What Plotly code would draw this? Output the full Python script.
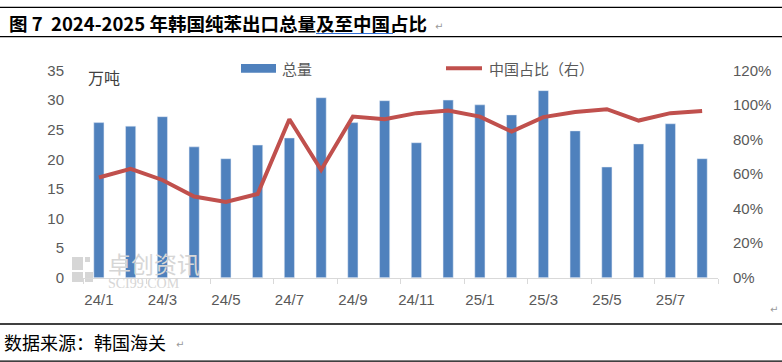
import plotly.graph_objects as go

months = ["24/1", "24/2", "24/3", "24/4", "24/5", "24/6", "24/7", "24/8", "24/9", "24/10",
          "24/11", "24/12", "25/1", "25/2", "25/3", "25/4", "25/5", "25/6", "25/7", "25/8"]
total_export = [26.2, 25.6, 27.2, 22.1, 20.1, 22.4, 23.6, 30.4, 26.2, 29.9,
                22.8, 30.0, 29.2, 27.5, 31.6, 24.8, 18.7, 22.6, 26.0, 20.1]
china_share = [0.58, 0.63, 0.566, 0.47, 0.439, 0.485, 0.918, 0.624, 0.933, 0.918,
               0.953, 0.968, 0.933, 0.846, 0.93, 0.96, 0.976, 0.91, 0.953, 0.965]
left_ticks = [0, 5, 10, 15, 20, 25, 30, 35]
right_ticks = [0, 0.2, 0.4, 0.6, 0.8, 1.0, 1.2]

W, H = 782, 362
X0, X1 = 83, 718
YT, YB = 70.5, 277.7

def px(x):
    return x / W

def py(y):
    return (H - y) / H

xs = list(range(len(months)))
label_idx = xs[::2]

fig = go.Figure()
fig.add_trace(go.Bar(x=xs, y=total_export, name="总量", marker_color="#4F81BD",
                     width=0.32, yaxis="y", showlegend=False))
fig.add_trace(go.Scatter(x=xs, y=china_share, name="中国占比（右）", mode="lines",
                         line=dict(color="#C0504D", width=4), yaxis="y2", showlegend=False))

num_font = "Liberation Sans Narrow, Liberation Sans, Arial, sans-serif"
cjk = "Noto Sans CJK SC, sans-serif"
gray = "#595959"

fig.update_layout(
    width=W, height=H,
    margin=dict(l=0, r=0, t=0, b=0),
    paper_bgcolor="white", plot_bgcolor="white",
    showlegend=False,
    xaxis=dict(domain=[px(X0), px(X1)], range=[-0.5, len(months) - 0.5],
               tickmode="array", tickvals=label_idx,
               ticktext=[months[i] for i in label_idx],
               ticks="", showgrid=False, zeroline=False,
               showline=True, linecolor="#D9D9D9", linewidth=1,
               tickfont=dict(family=num_font, size=15, color=gray),
               ticklabelstandoff=8, automargin=False,
               minor=dict(tickmode="array",
                          tickvals=[i - 0.5 for i in range(0, len(months) + 1, 2)],
                          ticks="outside", ticklen=5, tickcolor="#D9D9D9", tickwidth=1,
                          showgrid=False)),
    yaxis=dict(domain=[py(YB), py(YT)], range=[0, 35], tickmode="array", tickvals=left_ticks,
               showgrid=False, zeroline=False, showline=False, ticks="",
               tickfont=dict(family=num_font, size=15, color=gray),
               ticklabelstandoff=18, automargin=False),
    yaxis2=dict(overlaying="y", side="right", range=[0, 1.2], tickmode="array",
                tickvals=right_ticks, tickformat=".0%",
                showgrid=False, zeroline=False, showline=False, ticks="",
                tickfont=dict(family=num_font, size=15, color=gray),
                ticklabelstandoff=14, automargin=False),
)

shapes = []
annotations = []

# page lines
for y in (7.3, 36.7, 324, 361.2):
    shapes.append(dict(type="line", xref="paper", yref="paper", x0=0, x1=1,
                       y0=py(y), y1=py(y), line=dict(color="black", width=1.3)))
# grammar underline
shapes.append(dict(type="line", xref="paper", yref="paper", x0=px(316), x1=px(393),
                   y0=py(33.5), y1=py(33.5), line=dict(color="#2F6FD8", width=1.2)))

# title
annotations.append(dict(xref="paper", yref="paper", x=px(7), y=py(23), xanchor="left",
                        yanchor="middle", showarrow=False,
                        text="<b>图 7  2024-2025 年韩国纯苯出口总量及至中国占比</b>",
                        font=dict(family=cjk, size=18.5, color="black")))
annotations.append(dict(xref="paper", yref="paper", x=px(433), y=py(26), xanchor="left",
                        yanchor="middle", showarrow=False, text="↵",
                        font=dict(family="DejaVu Sans", size=10, color="#999999")))
# source
annotations.append(dict(xref="paper", yref="paper", x=px(2), y=py(342), xanchor="left",
                        yanchor="middle", showarrow=False, text="数据来源：韩国海关",
                        font=dict(family=cjk, size=18, color="black")))
annotations.append(dict(xref="paper", yref="paper", x=px(174), y=py(344), xanchor="left",
                        yanchor="middle", showarrow=False, text="↵",
                        font=dict(family="DejaVu Sans", size=10, color="#999999")))
annotations.append(dict(xref="paper", yref="paper", x=px(780), y=py(309), xanchor="right",
                        yanchor="middle", showarrow=False, text="↵",
                        font=dict(family="DejaVu Sans", size=10, color="#999999")))
# unit
annotations.append(dict(xref="paper", yref="paper", x=px(86), y=py(77), xanchor="left",
                        yanchor="middle", showarrow=False, text="万吨",
                        font=dict(family=cjk, size=16, color="#404040")))

# legend
shapes.append(dict(type="rect", xref="paper", yref="paper", x0=px(241), x1=px(276),
                   y0=py(72.7), y1=py(64), fillcolor="#4F81BD", line=dict(width=0)))
annotations.append(dict(xref="paper", yref="paper", x=px(280), y=py(68.5), xanchor="left",
                        yanchor="middle", showarrow=False, text="总量",
                        font=dict(family=cjk, size=15, color=gray)))
shapes.append(dict(type="line", xref="paper", yref="paper", x0=px(446), x1=px(482),
                   y0=py(68.3), y1=py(68.3), line=dict(color="#C0504D", width=4)))
annotations.append(dict(xref="paper", yref="paper", x=px(487), y=py(68.5), xanchor="left",
                        yanchor="middle", showarrow=False, text="中国占比（右）",
                        font=dict(family=cjk, size=15, color=gray)))

# watermark
wm = "#D6D6D6"
for (a, b, c, d) in [(72, 257, 83, 270), (85, 257, 90, 262), (72, 272, 83, 282),
                     (85, 272, 93, 282)]:
    shapes.append(dict(type="rect", xref="paper", yref="paper", x0=px(a), x1=px(c),
                       y0=py(d), y1=py(b), fillcolor=wm, line=dict(width=0), layer="below"))
annotations.append(dict(xref="paper", yref="paper", x=px(106), y=py(263), xanchor="left",
                        yanchor="middle", showarrow=False, text="卓创资讯",
                        font=dict(family=cjk, size=23, color=wm)))
annotations.append(dict(xref="paper", yref="paper", x=px(106), y=py(283), xanchor="left",
                        yanchor="middle", showarrow=False, text="SCI99.COM",
                        font=dict(family="Liberation Serif, serif", size=14, color=wm)))

fig.update_layout(shapes=shapes, annotations=annotations)
fig.write_html("out.html", config={"displayModeBar": False},
               post_script="document.body.style.margin='0';document.body.style.overflow='hidden';")
